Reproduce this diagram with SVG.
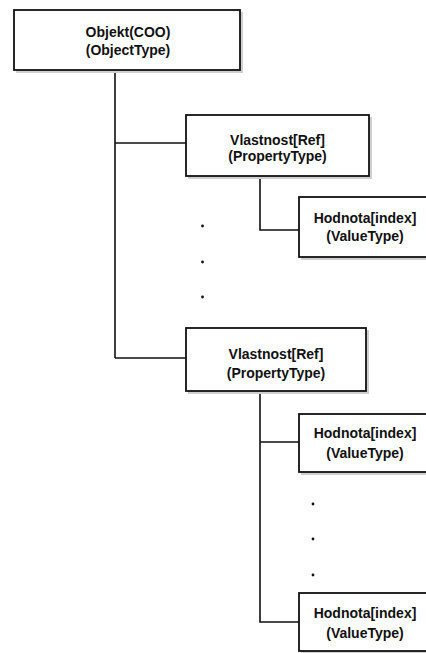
<svg xmlns="http://www.w3.org/2000/svg" width="426" height="653" viewBox="0 0 426 653">
  <defs>
    <style>
      .box { fill: #ffffff; stroke: #111111; stroke-width: 1.8; }
      .shadow { fill: #cfcfcf; stroke: none; }
      .lbl { font-family: "Liberation Sans", Arial, sans-serif; font-size: 14px; font-weight: bold; fill: #111111; text-anchor: middle; }
      .wire { fill: none; stroke: #111111; stroke-width: 1.6; }
      .dot { fill: #111111; }
    </style>
  </defs>
  <rect width="426" height="653" fill="#ffffff"/>

  <!-- connectors -->
  <g id="connectors">
    <path class="wire" d="M115,70 V358 M115,143 H186 M115,358 H186"/>
    <path class="wire" d="M260,176 V230 H299"/>
    <path class="wire" d="M260,391 V622 H299 M260,442 H299"/>
    <circle class="dot" cx="202.5" cy="226" r="1.4"/>
    <circle class="dot" cx="202.5" cy="262" r="1.4"/>
    <circle class="dot" cx="202.5" cy="297" r="1.4"/>
    <circle class="dot" cx="313" cy="504" r="1.4"/>
    <circle class="dot" cx="313" cy="539" r="1.4"/>
    <circle class="dot" cx="313" cy="575" r="1.4"/>
  </g>

  <!-- root object -->
  <g id="objekt">
    <rect class="shadow" x="16" y="12" width="227" height="61"/>
    <rect class="box" x="14" y="10" width="226" height="60"/>
    <text class="lbl" x="128" y="37">Objekt(COO)</text>
    <text class="lbl" x="128" y="55">(ObjectType)</text>
  </g>

  <!-- first property -->
  <g id="vlastnost1">
    <rect class="shadow" x="188" y="117" width="184" height="62"/>
    <rect class="box" x="186" y="115" width="183" height="61"/>
    <text class="lbl" x="277.5" y="144.5">Vlastnost[Ref]</text>
    <text class="lbl" x="277.5" y="160.5">(PropertyType)</text>
  </g>

  <!-- value of first property -->
  <g id="hodnota1">
    <rect class="shadow" x="301" y="199" width="130" height="61"/>
    <rect class="box" x="299" y="197" width="131" height="60"/>
    <text class="lbl" x="365" y="223">Hodnota[index]</text>
    <text class="lbl" x="365" y="241">(ValueType)</text>
  </g>

  <!-- last property -->
  <g id="vlastnost2">
    <rect class="shadow" x="188" y="330" width="181" height="64"/>
    <rect class="box" x="186" y="328" width="180" height="63"/>
    <text class="lbl" x="276" y="359">Vlastnost[Ref]</text>
    <text class="lbl" x="276" y="378">(PropertyType)</text>
  </g>

  <!-- first value of last property -->
  <g id="hodnota2">
    <rect class="shadow" x="301" y="416" width="130" height="59"/>
    <rect class="box" x="299" y="414" width="131" height="58"/>
    <text class="lbl" x="365" y="438">Hodnota[index]</text>
    <text class="lbl" x="365" y="458">(ValueType)</text>
  </g>

  <!-- last value of last property -->
  <g id="hodnota3">
    <rect class="shadow" x="301" y="595" width="130" height="60"/>
    <rect class="box" x="299" y="593" width="131" height="58"/>
    <text class="lbl" x="365" y="618">Hodnota[index]</text>
    <text class="lbl" x="365" y="638">(ValueType)</text>
  </g>
</svg>
